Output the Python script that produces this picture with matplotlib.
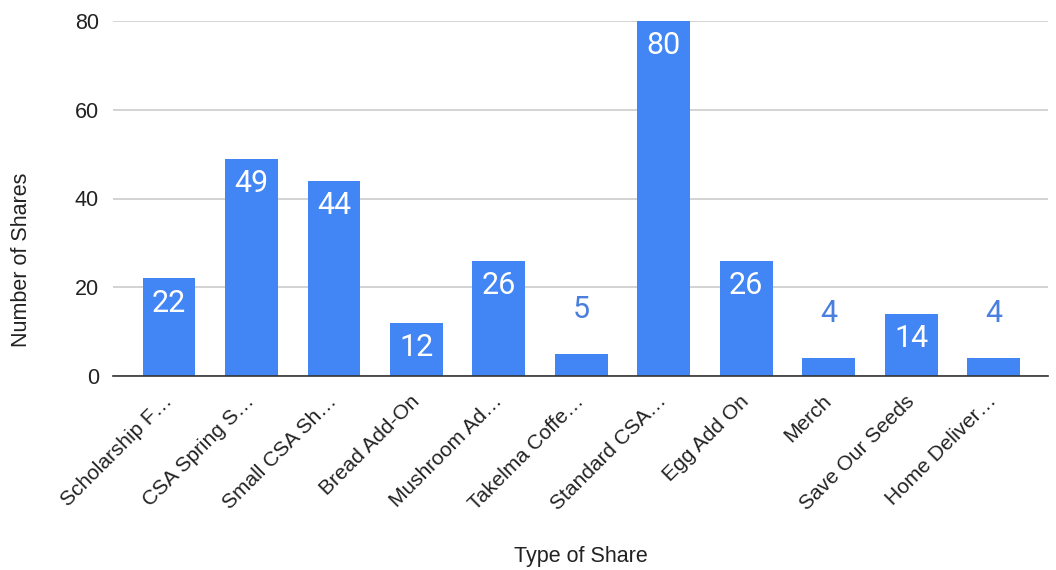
import matplotlib
matplotlib.use("Agg")
import matplotlib.pyplot as plt

categories = [
    "Scholarship F…", "CSA Spring S…", "Small CSA Sh…", "Bread Add-On",
    "Mushroom Ad…", "Takelma Coffe…", "Standard CSA…", "Egg Add On",
    "Merch", "Save Our Seeds", "Home Deliver…",
]
shares = [22, 49, 44, 12, 26, 5, 80, 26, 4, 14, 4]
y_ticks = [0, 20, 40, 60, 80]

BAR = "#4285F4"
LABEL_OUT = "#4a7fe0"
TEXT = "#222222"
FONT = "Liberation Sans"

fig = plt.figure(figsize=(10.56, 5.70), dpi=100)
ax = fig.add_axes([113 / 1056, 1 - 376 / 570, (1048 - 113) / 1056, (376 - 21) / 570])

x = list(range(len(categories)))
ax.bar(x, shares, width=0.64, color=BAR, zorder=3)

ax.set_xlim(-0.68, 10.66)
ax.set_ylim(0, 80)
ax.set_yticks(y_ticks)
ax.set_yticklabels([str(t) for t in y_ticks], fontsize=15.5,
                   family=FONT, color=TEXT)
ax.grid(axis="y", color="#cccccc", linewidth=1.2, zorder=0)
ax.set_axisbelow(True)

for side in ("top", "right", "left"):
    ax.spines[side].set_visible(False)
ax.spines["bottom"].set_color("#333333")
ax.spines["bottom"].set_linewidth(1.2)
ax.spines["bottom"].set_zorder(4)
ax.tick_params(axis="both", length=0)
ax.tick_params(axis="y", pad=10)

ax.set_xticks(x)
ax.set_xticklabels(categories, rotation=45, ha="right", va="center",
                   rotation_mode="anchor", fontsize=15,
                   family=FONT, color=TEXT)
ax.tick_params(axis="x", pad=16)

for xi, v in zip(x, shares):
    if v >= 8:
        ax.annotate(str(v), (xi, v), xytext=(0, -18), textcoords="offset points",
                    ha="center", va="center", color="white", fontsize=22,
                    family="Roboto", zorder=5)
    else:
        ax.annotate(str(v), (xi, v), xytext=(0, 32), textcoords="offset points",
                    ha="center", va="center", color=LABEL_OUT, fontsize=22,
                    family="Roboto", zorder=5)

ax.set_xlabel("Type of Share", fontsize=15.5, family=FONT, color=TEXT)
ax.xaxis.set_label_coords(0.5, -0.48)
ax.set_ylabel("Number of Shares", fontsize=15.5, family=FONT, color=TEXT)
ax.yaxis.set_label_coords(-0.087, 0.327)

fig.savefig("out.png", dpi=100, facecolor="white")
